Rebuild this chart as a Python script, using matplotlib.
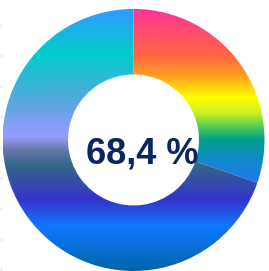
import numpy as np
import matplotlib.pyplot as plt
from matplotlib.colors import LinearSegmentedColormap
from matplotlib.lines import Line2D

# Data
labels = ["A", "B"]
values = [30.3, 69.7]
center_text = "68,4 %"

# gradient stops per slice (position from top of ring, colour)
grad_stops = [
    [(0.00, "#ff3399"), (0.18, "#ff6644"), (0.25, "#ff9922"),
     (0.34, "#ffff00"), (0.40, "#ccee22"), (0.45, "#55cc55"),
     (0.50, "#00a08a"), (0.58, "#1188cc"), (0.66, "#2277ee"),
     (1.00, "#2277ee")],
    [(0.00, "#3399ff"), (0.17, "#00cccc"), (0.35, "#55aadd"),
     (0.49, "#9999ff"), (0.54, "#6677aa"), (0.60, "#336688"),
     (0.73, "#3333cc"), (0.83, "#1177ff"), (1.00, "#0066aa")],
]

fig = plt.figure(figsize=(2.69, 2.71), dpi=100)
ax = fig.add_axes([0.0093, 0.0, 0.974, 0.967])

wedges, _ = ax.pie(values, startangle=90, counterclock=False, radius=1.0,
                   wedgeprops=dict(width=0.5, linewidth=0))

grad = np.linspace(0, 1, 512).reshape(-1, 1)
for w, stops in zip(wedges, grad_stops):
    w.set_facecolor("none")
    cmap = LinearSegmentedColormap.from_list("g", stops)
    im = ax.imshow(grad, cmap=cmap, extent=(-1, 1, -1, 1), origin="upper",
                   aspect="auto", interpolation="bilinear")
    im.set_clip_path(w)

ax.text(0.065, -0.183, center_text, ha="center", va="baseline",
        fontsize=26, fontweight="bold", family="Liberation Sans",
        color="#0b2560")

ax.set_xlim(-1, 1)
ax.set_ylim(-1, 1)
ax.axis("off")

# faint dotted edge on the left
fig.add_artist(Line2D([0.002, 0.002], [0, 1], transform=fig.transFigure,
                      color="#bfeff2", linewidth=1, linestyle=(0, (2, 20))))

fig.savefig("out.png", dpi=100)
